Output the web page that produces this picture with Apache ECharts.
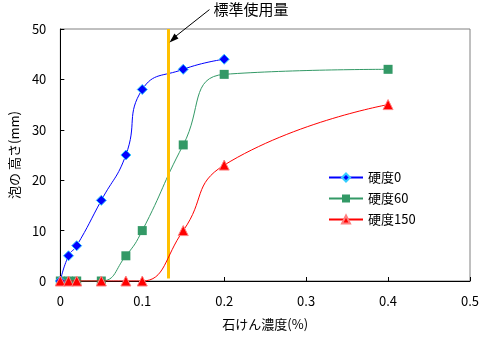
<!DOCTYPE html>
<html>
<head>
<meta charset="utf-8">
<script src="https://cdn.jsdelivr.net/npm/echarts@6/dist/echarts.min.js"></script>
<style>
html,body{margin:0;padding:0;background:#fff;}
#c{width:499px;height:338px;}
</style>
</head>
<body>
<div id="c"></div>
<script>
var xHard0 = [0, 0.01, 0.02, 0.05, 0.08, 0.1, 0.15, 0.2];
var yHard0 = [0, 5, 7, 16, 25, 38, 42, 44];
var xHard60 = [0, 0.01, 0.02, 0.05, 0.08, 0.1, 0.15, 0.2, 0.4];
var yHard60 = [0, 0, 0, 0, 5, 10, 27, 41, 42];
var xHard150 = [0, 0.01, 0.02, 0.05, 0.08, 0.1, 0.15, 0.2, 0.4];
var yHard150 = [0, 0, 0, 0, 0, 0, 10, 23, 35];
var seriesNames = ['硬度0', '硬度60', '硬度150'];
var standardDose = 0.132;
var annotationText = '標準使用量';
var xTitle = '石けん濃度(%)';
var yTitle = '泡の 高さ(mm)';

function pairs(xs, ys) { return xs.map(function (x, i) { return [x, ys[i]]; }); }

var FONT = '"Noto Sans CJK JP", "Noto Sans", sans-serif';
var chart = echarts.init(document.getElementById('c'), null, {renderer: 'canvas'});
var option = {
  animation: false,
  backgroundColor: '#fff',
  textStyle: {fontFamily: FONT},
  grid: {left: 58, right: 29, top: 29, bottom: 57, show: true, borderColor: '#808080', borderWidth: 1, backgroundColor: 'transparent'},
  xAxis: {
    type: 'value', min: 0, max: 0.5, interval: 0.1,
    name: xTitle, nameLocation: 'middle', nameGap: 37,
    nameTextStyle: {fontSize: 13, color: '#000', fontFamily: FONT},
    axisLine: {show: true, lineStyle: {color: '#000', width: 1}},
    axisTick: {show: true, inside: true, length: 4, lineStyle: {color: '#000'}},
    axisLabel: {fontSize: 13, color: '#000', margin: 14, fontFamily: FONT},
    splitLine: {show: false}
  },
  yAxis: {
    type: 'value', min: 0, max: 50, interval: 10,
    name: yTitle, nameLocation: 'middle', nameGap: 36, nameRotate: 90,
    nameTextStyle: {fontSize: 13, color: '#000', fontFamily: FONT},
    axisLine: {show: true, lineStyle: {color: '#000', width: 1}},
    axisTick: {show: true, inside: true, length: 4, lineStyle: {color: '#000'}},
    axisLabel: {fontSize: 13, color: '#000', margin: 14, fontFamily: FONT},
    splitLine: {show: false}
  },
  legend: {
    orient: 'vertical', left: 323, top: 166, itemWidth: 34, itemHeight: 10, itemGap: 8,
    textStyle: {fontSize: 13, color: '#000', fontFamily: FONT},
    data: seriesNames
  },
  series: [
    {
      name: seriesNames[0], type: 'line', smooth: 0.5, data: pairs(xHard0, yHard0),
      symbol: 'diamond', symbolSize: 10,
      lineStyle: {color: '#0000FF', width: 1},
      itemStyle: {color: '#0000FF', borderColor: '#33CCFF', borderWidth: 1},
      z: 4
    },
    {
      name: seriesNames[1], type: 'line', smooth: 0.5, data: pairs(xHard60, yHard60),
      symbol: 'rect', symbolSize: 9,
      lineStyle: {color: '#339966', width: 1},
      itemStyle: {color: '#339966'},
      z: 3,
      markLine: {
        silent: true, symbol: 'none', label: {show: false},
        lineStyle: {color: '#FFC000', width: 3, type: 'solid'},
        data: [[{coord: [standardDose, 0.5]}, {coord: [standardDose, 50]}]]
      }
    },
    {
      name: seriesNames[2], type: 'line', smooth: 0.5, data: pairs(xHard150, yHard150),
      symbol: 'triangle', symbolSize: 10,
      lineStyle: {color: '#FF0000', width: 1},
      itemStyle: {color: '#FF0000', borderColor: '#FF8080', borderWidth: 1},
      z: 5
    }
  ]
};
chart.setOption(option);

var tip = chart.convertToPixel({gridIndex: 0}, [standardDose, 47.5]);
var tail = [tip[0] + 41, tip[1] - 32];
chart.setOption({
  graphic: [
    {type: 'line', shape: {x1: tail[0], y1: tail[1], x2: tip[0] + 3, y2: tip[1] - 2}, style: {stroke: '#000', lineWidth: 1}, z: 10},
    {type: 'polygon', shape: {points: [[tip[0] + 1, tip[1] + 1], [tip[0] + 6, tip[1] - 8], [tip[0] + 10, tip[1] - 3]]}, style: {fill: '#000'}, z: 10},
    {type: 'text', x: tail[0] + 4, y: tail[1], style: {text: annotationText, font: '15px ' + FONT, fill: '#000', textVerticalAlign: 'middle', verticalAlign: 'middle'}, z: 10}
  ]
});
</script>
</body>
</html>
